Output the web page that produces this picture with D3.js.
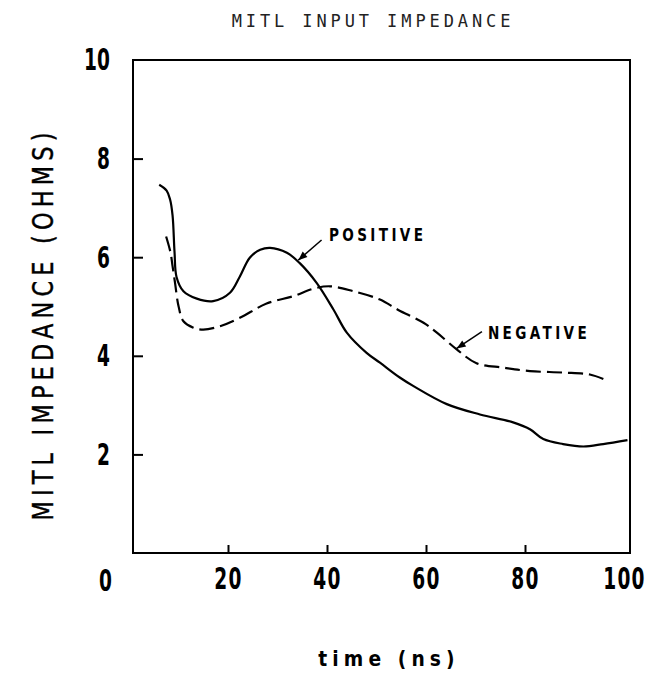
<!DOCTYPE html>
<html>
<head>
<meta charset="utf-8">
<script src="https://cdn.jsdelivr.net/npm/d3@7"></script>
<style>
  html, body { margin: 0; padding: 0; background: #fff; }
  svg { display: block; }
</style>
</head>
<body>
<div id="chart"></div>
<script>
// ---- data ----
const chartTitle = "MITL INPUT IMPEDANCE";
const xTitle = "time (ns)";
const yTitle = "MITL IMPEDANCE (OHMS)";
const xTickValues = [20, 40, 60, 80, 100];
const yTickValues = [2, 4, 6, 8, 10];
const originLabel = "0";

// time (ns)
const positiveTime = [6.1, 7.6, 8.3, 8.8, 9.2, 9.6, 11.0, 13.7, 17.0, 20.4, 22.4, 24.4, 26.5, 28.5, 31.9, 34.5, 37.9, 41.3, 44.0, 48.0, 50.7, 54.7, 57.4, 64.2, 70.9, 77.6, 81.0, 83.7, 87.7, 91.8, 95.8, 100.7];
// impedance (ohms)
const positiveValue = [7.47, 7.35, 7.17, 6.85, 6.10, 5.60, 5.31, 5.16, 5.11, 5.28, 5.61, 5.99, 6.15, 6.19, 6.09, 5.88, 5.48, 4.94, 4.47, 4.06, 3.86, 3.56, 3.39, 3.02, 2.81, 2.65, 2.51, 2.31, 2.21, 2.16, 2.21, 2.29];

const negativeTime = [7.5, 8.4, 8.8, 9.3, 10.0, 11.0, 13.0, 15.0, 18.4, 22.4, 27.8, 33.2, 37.2, 40.6, 45.3, 50.7, 54.4, 59.5, 62.2, 66.2, 70.2, 75.6, 81.0, 87.7, 93.1, 96.8];
const negativeValue = [6.42, 6.09, 5.82, 5.48, 5.01, 4.70, 4.57, 4.53, 4.60, 4.77, 5.06, 5.21, 5.36, 5.41, 5.31, 5.14, 4.93, 4.67, 4.47, 4.13, 3.85, 3.76, 3.69, 3.66, 3.62, 3.49];

// annotations: label, text anchor (data units), arrow tail & tip (data units)
const annotationLabels = ["POSITIVE", "NEGATIVE"];
const annotationText = [[40.4, 6.33], [72.5, 4.35]];
const annotationTail = [[38.9, 6.35], [71.3, 4.49]];
const annotationTip = [[34.2, 5.94], [66.2, 4.15]];

// ---- layout ----
const W = 665, H = 673;
const frame = { left: 133, right: 630, top: 60, bottom: 553 };
const x = d3.scaleLinear().domain([0, 100]).range([129, 624]);
const y = d3.scaleLinear().domain([0, 10]).range([frame.bottom, frame.top]);

const sansFont = "'DejaVu Sans', sans-serif";
const tickSize = 31, tickSquash = 0.6;

const svg = d3.select("#chart").append("svg")
  .attr("width", W).attr("height", H);

svg.append("defs").append("marker")
  .attr("id", "arrowhead")
  .attr("viewBox", "0 0 10 10")
  .attr("refX", 10).attr("refY", 5)
  .attr("markerWidth", 12).attr("markerHeight", 9)
  .attr("markerUnits", "userSpaceOnUse")
  .attr("orient", "auto")
  .append("path")
  .attr("d", "M0,1 L10,5 L0,9 Z")
  .attr("fill", "#000");

// title
svg.append("text")
  .attr("x", 373).attr("y", 27)
  .attr("text-anchor", "middle")
  .attr("font-family", "'DejaVu Sans Mono', monospace")
  .attr("font-size", 17)
  .attr("letter-spacing", 3.9)
  .attr("fill", "#222")
  .text(chartTitle);

// frame
svg.append("rect")
  .attr("x", frame.left).attr("y", frame.top)
  .attr("width", frame.right - frame.left)
  .attr("height", frame.bottom - frame.top)
  .attr("fill", "none").attr("stroke", "#000").attr("stroke-width", 2);

// y axis
const yAxis = svg.append("g")
  .attr("transform", `translate(${frame.left},0)`)
  .call(d3.axisLeft(y).tickValues(yTickValues).tickSizeInner(-10).tickSizeOuter(0).tickPadding(23).tickFormat(d3.format("d")));
yAxis.select(".domain").remove();
yAxis.selectAll(".tick line").attr("stroke", "#000").attr("stroke-width", 2)
  .filter(d => d === 10).remove();
yAxis.selectAll(".tick text")
  .attr("x", 0)
  .attr("transform", `translate(-23,0) scale(${tickSquash},1)`)
  .attr("font-family", sansFont).attr("font-weight", "bold")
  .attr("font-size", tickSize).attr("fill", "#000");

// x axis
const xAxis = svg.append("g")
  .attr("transform", `translate(0,${frame.bottom})`)
  .call(d3.axisBottom(x).tickValues(xTickValues).tickSizeInner(-8).tickSizeOuter(0).tickPadding(14).tickFormat(d3.format("d")));
xAxis.select(".domain").remove();
xAxis.selectAll(".tick line").attr("stroke", "#000").attr("stroke-width", 2)
  .filter(d => d === 100).remove();
xAxis.selectAll(".tick text")
  .attr("transform", `scale(${tickSquash},1)`)
  .attr("font-family", sansFont).attr("font-weight", "bold")
  .attr("font-size", tickSize).attr("fill", "#000")
  .attr("letter-spacing", 2);

// shared origin label
svg.append("text")
  .attr("transform", `translate(${frame.left - 21},${frame.bottom + 38}) scale(${tickSquash},1)`)
  .attr("text-anchor", "end")
  .attr("font-family", sansFont).attr("font-weight", "bold")
  .attr("font-size", tickSize).attr("fill", "#000")
  .text(originLabel);

// axis titles
svg.append("text")
  .attr("transform", `translate(53,324) rotate(-90) scale(0.8,1)`)
  .attr("text-anchor", "middle")
  .attr("font-family", sansFont)
  .attr("font-size", 28)
  .attr("letter-spacing", 6.5)
  .attr("fill", "#000")
  .attr("stroke", "#000").attr("stroke-width", 0.4)
  .text(yTitle);

svg.append("text")
  .attr("transform", `translate(389,666) scale(0.85,1)`)
  .attr("text-anchor", "middle")
  .attr("font-family", sansFont).attr("font-weight", "bold")
  .attr("font-size", 22)
  .attr("letter-spacing", 6)
  .attr("fill", "#000")
  .text(xTitle);

// curves
const line = d3.line()
  .x(d => x(d[0])).y(d => y(d[1]))
  .curve(d3.curveCatmullRom.alpha(0.5));

const positive = positiveTime.map((t, i) => [t, positiveValue[i]]);
const negative = negativeTime.map((t, i) => [t, negativeValue[i]]);

svg.append("path").datum(positive)
  .attr("d", line)
  .attr("fill", "none").attr("stroke", "#000").attr("stroke-width", 2.2)
  .attr("stroke-linejoin", "round");

svg.append("path").datum(negative)
  .attr("d", line)
  .attr("fill", "none").attr("stroke", "#000").attr("stroke-width", 2.2)
  .attr("stroke-dasharray", "15,6");

// annotations
annotationLabels.forEach((label, i) => {
  svg.append("line")
    .attr("x1", x(annotationTail[i][0])).attr("y1", y(annotationTail[i][1]))
    .attr("x2", x(annotationTip[i][0])).attr("y2", y(annotationTip[i][1]))
    .attr("stroke", "#000").attr("stroke-width", 1.5)
    .attr("marker-end", "url(#arrowhead)");
  svg.append("text")
    .attr("transform", `translate(${x(annotationText[i][0])},${y(annotationText[i][1])}) scale(0.8,1)`)
    .attr("font-family", sansFont).attr("font-weight", "bold")
    .attr("font-size", 17)
    .attr("letter-spacing", 4.2)
    .attr("fill", "#000")
    .text(label);
});
</script>
</body>
</html>
